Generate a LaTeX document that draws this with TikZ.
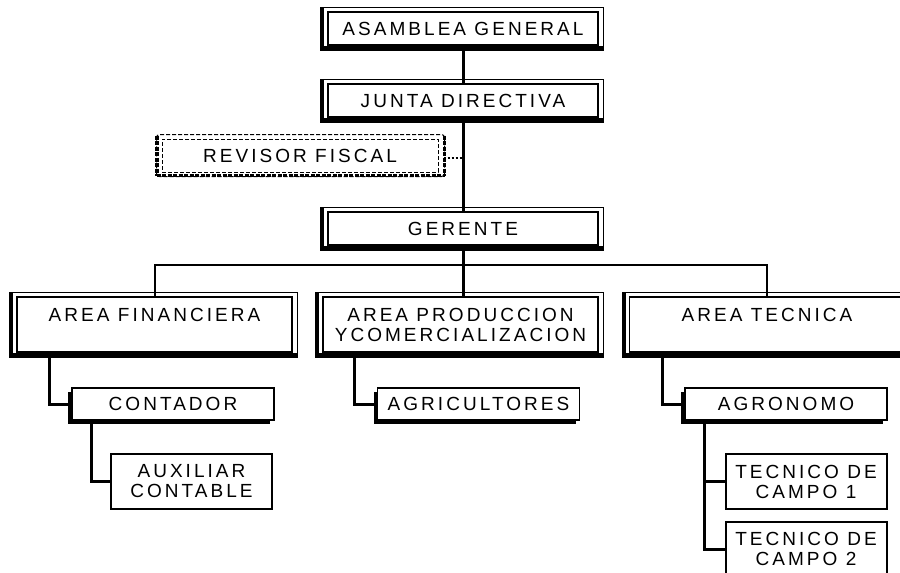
\documentclass[tikz,border=0pt]{standalone}
\usepackage{fontspec}
\newfontfamily\arialsp[LetterSpace=16]{Liberation Sans}
\usetikzlibrary{calc,shadows}
\tikzset{
  txt/.style={font={\arialsp\fontsize{19pt}{20pt}\selectfont}, align=center, inner sep=0pt},
  bigbox/.style={txt, draw, line width=1.2pt, fill=white, minimum width=270pt, minimum height=33pt},
  areabox/.style={txt, draw, line width=1.2pt, fill=white, minimum width=275pt, minimum height=55pt},
  smallbox/.style={txt, draw, line width=1.5pt, fill=white, minimum width=202pt, minimum height=32pt,
    general shadow={fill=black, shadow xshift=-4pt, shadow yshift=-4pt}},
  plainbox/.style={txt, draw, line width=2pt, fill=white, minimum width=161pt, minimum height=55pt},
  revbox/.style={txt, draw, line width=1pt, dash pattern=on 4pt off 2pt, fill=white, minimum width=276pt, minimum height=33pt},
  link/.style={line width=3pt},
  bus/.style={line width=2pt},
}
\newcommand\bigframe[1]{%
  \draw[line width=1pt] ($(#1.south east)+(5,0)$) -- ($(#1.north east)+(5,-4)$) -- ($(#1.north west)+(-4,-4)$) -- ($(#1.south west)+(-4,0)$);
  \fill ($(#1.north west)+(-7,-4.5)$) rectangle ($(#1.south west)+(-3,5)$);
  \fill ($(#1.south west)+(-7,0)$) rectangle ($(#1.south east)+(5.5,5)$);
}
\begin{document}
\begin{tikzpicture}[x=1pt,y=-1pt]
\useasboundingbox (0,0) rectangle (900,573);
\clip (0,0) rectangle (900,573);
\fill[white] (0,0) rectangle (900,573);

% nodes
\node[bigbox] (asam) at (463,28.5) {ASAMBLEA GENERAL};
\node[bigbox] (junta) at (463,100.5) {JUNTA DIRECTIVA};
\node[bigbox] (ger) at (463,228.5) {GERENTE};
\node[revbox] (rev) at (300,155.5) {REVISOR FISCAL};

\node[areabox] (fin) at (154.5,324.5) {AREA FINANCIERA\\\mbox{}};
\node[areabox] (prod) at (460.5,324.5) {AREA PRODUCCION\\YCOMERCIALIZACION};
\node[areabox] (tec) at (767,324.5) {AREA TECNICA\\\mbox{}};

\node[smallbox] (cont) at (173,404) {CONTADOR};
\node[smallbox] (agri) at (478.5,404) {AGRICULTORES};
\node[smallbox] (agro) at (786,404) {AGRONOMO};

\node[plainbox] (aux) at (191.5,481.5) {AUXILIAR\\CONTABLE};
\node[plainbox] (tc1) at (806,481.5) {TECNICO DE\\CAMPO 1};
\node[plainbox] (tc2) at (806,549) {TECNICO DE\\CAMPO 2};

\coordinate (bus) at (462,265);

% connectors
\draw[link] (asam.south) -- (junta.north);
\draw[link] (junta.south) -- (ger.north);
\draw[link] (ger.south) -- (ger.south |- prod.north);
\draw[bus] (fin.north) -- (fin.north |- bus) -- (tec.north |- bus) -- (tec.north);
\draw[line width=2pt, dash pattern=on 2pt off 2pt] ($(rev.east)+(5,2)$) -- ($(rev.east -| junta.south)+(0,2)$);

\draw[link] (cont.west) -| ($(fin.south west)+(33,0)$);
\draw[link] (aux.west) -| ($(cont.south west)+(20,0)$);
\draw[link] (agri.west) -| ($(prod.south west)+(32,0)$);
\draw[link] (agro.west) -| ($(tec.south west)+(34,0)$);
\draw[link] (tc1.west) -| ($(agro.south west)+(20,0)$);
\draw[link] (tc2.west) -| ($(agro.south west)+(20,0)$);

% frames
\bigframe{asam}
\bigframe{junta}
\bigframe{ger}
\bigframe{fin}
\bigframe{prod}
\bigframe{tec}
\draw[line width=1pt, dash pattern=on 4pt off 2pt, rounded corners=3pt] ($(rev.south east)+(6,4)$) -- ($(rev.north east)+(6,-4)$) -- ($(rev.north west)+(-5,-4)$) -- ($(rev.south west)+(-5,4)$) -- cycle;
\draw[line width=4pt, dash pattern=on 4pt off 1.5pt] ($(rev.north west)+(-5,-3)$) -- ($(rev.south west)+(-5,3)$);
\draw[line width=3.5pt, dash pattern=on 4pt off 1.5pt] ($(rev.south west)+(-5,3)$) -- ($(rev.south east)+(6,3)$);
\draw[line width=3pt, dash pattern=on 4pt off 1.5pt] ($(rev.north east)+(6,-3)$) -- ($(rev.south east)+(6,3)$);
\end{tikzpicture}
\end{document}
